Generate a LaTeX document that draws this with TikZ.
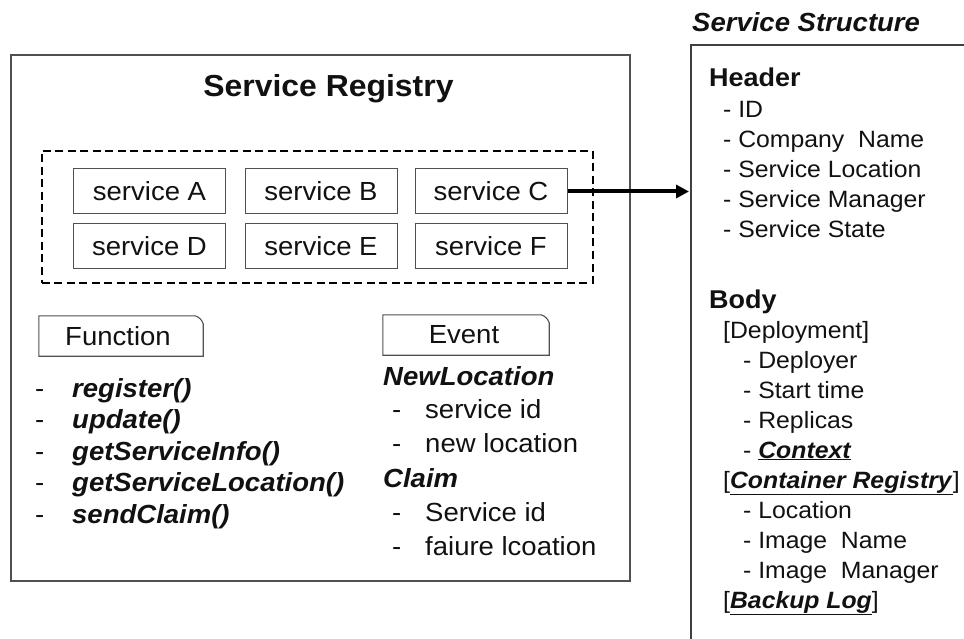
\documentclass[tikz,border=0pt]{standalone}
\usepackage{fontspec}
\setmainfont{Liberation Sans}[FakeStretch=1.05]
\usetikzlibrary{arrows.meta}
\definecolor{frame}{HTML}{505050}
\definecolor{ink}{HTML}{111111}
\newcommand{\fsz}[1]{\fontsize{#1}{#1}\selectfont}
\tikzset{
  svc/.style={draw=frame, line width=1pt, minimum width=152pt, minimum height=45pt,
    inner sep=0pt, font=\fsz{26.2}, text=ink},
  lst/.style={anchor=base west, inner sep=0pt, text=ink, font=\fsz{26.2}},
  rlst/.style={anchor=base west, inner sep=0pt, text=ink, font=\fsz{23.6}},
  tabtxt/.style={inner sep=0pt, text=ink, font=\fsz{26.2}},
  tabline/.style={draw=frame, line width=1.1pt},
}
\begin{document}
\begin{tikzpicture}[x=1pt,y=-1pt]
\useasboundingbox (0,0) rectangle (964,639);

% registry frame
\node[draw=frame, line width=1.5pt, minimum width=619pt, minimum height=526pt, inner sep=0pt]
  (reg) at (320.5,318) {};
\node[anchor=base, inner sep=0pt, text=ink, font=\fsz{30.4}\bfseries] (regtitle) at (328.5,97) {Service Registry};

% service group
\node[draw=black, dashed, dash pattern=on 8pt off 4.5pt, line width=2pt,
  minimum width=551pt, minimum height=132pt, inner sep=0pt] (grp) at (317.3,217) {};
\node[svc] (sA) at (149.5,191.5) {service A};
\node[svc] (sB) at (321,191.5) {service B};
\node[svc] (sC) at (491,191.5) {service C};
\node[svc] (sD) at (149.5,246) {service D};
\node[svc] (sE) at (321,246) {service E};
\node[svc] (sF) at (491,246) {service F};

% Function tab and list
\node[minimum width=164pt, minimum height=40pt, inner sep=0pt] (ftab) at (121,336) {};
\draw[tabline] (ftab.south west) -- (ftab.north west) -- ([xshift=-8pt]ftab.north east)
  to[bend left=25] ([yshift=-8pt]ftab.north east) -- (ftab.south east) -- cycle;
\node[tabtxt] (ftabtxt) at (118,336) {Function};
\foreach \t/\yy [count=\i] in {register()/397, update()/428.5, getServiceInfo()/460,
    getServiceLocation()/491.5, sendClaim()/523} {
  \node[lst] (fd\i) at (35,\yy) {-};
  \node[lst, font=\fsz{26.2}\bfseries\itshape] (fn\i) at (72,\yy) {\t};
}

% Event tab and list
\node[minimum width=166pt, minimum height=40pt, inner sep=0pt] (etab) at (466,335) {};
\draw[tabline] (etab.south west) -- (etab.north west) -- ([xshift=-8pt]etab.north east)
  to[bend left=25] ([yshift=-8pt]etab.north east) -- (etab.south east) -- cycle;
\node[tabtxt] (etabtxt) at (464,335) {Event};
\node[lst, font=\fsz{26.2}\bfseries\itshape] (ev1) at (383,385) {NewLocation};
\node[lst] (ev2d) at (392,418) {-};
\node[lst] (ev2) at (425,418) {service id};
\node[lst] (ev3d) at (392,452) {-};
\node[lst] (ev3) at (425,452) {new location};
\node[lst, font=\fsz{26.2}\bfseries\itshape] (ev4) at (383,487) {Claim};
\node[lst] (ev5d) at (392,521) {-};
\node[lst] (ev5) at (425,521) {Service id};
\node[lst] (ev6d) at (392,555) {-};
\node[lst] (ev6) at (425,555) {faiure lcoation};

% service structure frame (runs past the right and bottom edges)
\node[anchor=base west, inner sep=0pt, text=ink, font=\fsz{26.2}\bfseries\itshape] (sstitle)
  at (692,32) {Service Structure};
\coordinate (frTL) at (691,45);
\draw[draw=frame!80!black, line width=1.5pt] (970,45) -- (frTL) -- (691,645);

\node[anchor=base west, inner sep=0pt, text=ink, font=\fsz{25.7}\bfseries] (hdr) at (709,87) {Header};
\foreach \t/\yy [count=\i] in {- ID/118, - Company\ \ Name/148, - Service Location/178,
    - Service Manager/208, - Service State/238} {
  \node[rlst] (h\i) at (723,\yy) {\t};
}
\node[anchor=base west, inner sep=0pt, text=ink, font=\fsz{25.7}\bfseries] (bdy) at (709,308) {Body};
\node[rlst] (b1) at (723,338) {[Deployment]};
\node[rlst] (b2) at (743,368) {- Deployer};
\node[rlst] (b3) at (743,398) {- Start time};
\node[rlst] (b4) at (743,428) {- Replicas};
\node[rlst] (b5) at (743,458) {- \underline{\textbf{\textit{Context}}}};
\node[rlst] (b6) at (723,488) {[\underline{\textbf{\textit{Container Registry}}}]};
\node[rlst] (b7) at (743,518) {- Location};
\node[rlst] (b8) at (743,548) {- Image\ \ Name};
\node[rlst] (b9) at (743,578) {- Image\ \ Manager};
\node[rlst] (b10) at (723,608) {[\underline{\textbf{\textit{Backup Log}}}]};

% link from service C to its structure
\coordinate (arrtip) at (689,191.5);
\draw[line width=4pt, -{Triangle[length=13pt,width=13pt]}] (sC.east) -- (arrtip);
\end{tikzpicture}
\end{document}
